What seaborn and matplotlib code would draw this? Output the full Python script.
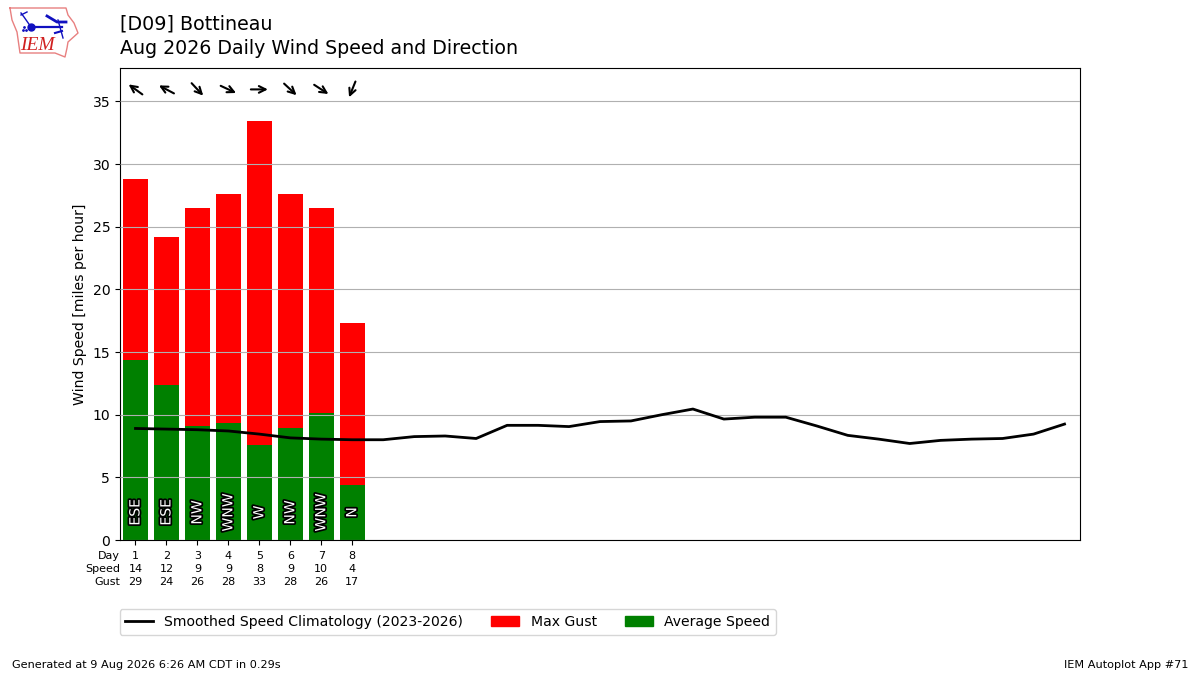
import numpy as np
import pandas as pd
import seaborn as sns
import matplotlib
matplotlib.use("Agg")
import matplotlib.pyplot as plt
import matplotlib.patheffects as PathEffects
from matplotlib.patches import Patch
from matplotlib.lines import Line2D
from matplotlib.transforms import ScaledTranslation

# daily values
days = [1, 2, 3, 4, 5, 6, 7, 8]
avg_speed = [14.4, 12.4, 9.1, 9.3, 7.6, 8.9, 10.1, 4.4]
max_gust = [28.8, 24.2, 26.5, 27.6, 33.4, 27.6, 26.5, 17.3]
speed_labels = [14, 12, 9, 9, 8, 9, 10, 4]
gust_labels = [29, 24, 26, 28, 33, 28, 26, 17]
dir_labels = ["ESE", "ESE", "NW", "WNW", "W", "NW", "WNW", "N"]
wind_dir = [126, 118, 317, 295, 270, 313, 303, 22]

clim_days = list(range(1, 32))
clim_speed = [8.9, 8.85, 8.8, 8.7, 8.45, 8.15, 8.05, 8.0, 8.0, 8.25, 8.3, 8.1,
              9.15, 9.15, 9.05, 9.45, 9.5, 10.0, 10.45, 9.65, 9.8, 9.8, 9.1,
              8.35, 8.05, 7.7, 7.95, 8.05, 8.1, 8.45, 9.25]

y_ticks = [0, 5, 10, 15, 20, 25, 30, 35]

# logo outline, pixels of the logo corner
iowa_x = [10, 66, 68, 74, 78, 68, 67, 65, 55, 20, 17, 12, 10]
iowa_y = [8, 8, 15, 23, 33, 42, 48, 57, 53, 53, 32, 20, 8]

df = pd.DataFrame({"day": days, "avg": avg_speed, "gust": max_gust})
clim = pd.DataFrame({"day": clim_days, "speed": clim_speed})

plt.rcParams["font.size"] = 10.1

fig = plt.figure(figsize=(12, 6.75), dpi=100)
ax = fig.add_axes([0.1, 0.2, 0.8, 0.699])

sns.barplot(data=df, x="day", y="gust", color="red", saturation=1, native_scale=True, width=0.8, ax=ax)
sns.barplot(data=df, x="day", y="avg", color="green", saturation=1, native_scale=True, width=0.8, ax=ax)
sns.lineplot(data=clim, x="day", y="speed", color="k", lw=2, ax=ax, zorder=4)

ax.set_xlim(0.5, 31.5)
ax.set_ylim(0, 37.65)
ax.set_yticks(y_ticks)
ax.grid(True, axis="y", color="#b0b0b0", lw=0.8)
ax.set_axisbelow(False)
ax.set_ylabel("Wind Speed [miles per hour]")
ax.set_xlabel("")

ax.set_xticks(days)
ax.set_xticklabels([f"{d}\n{s}\n{g}" for d, s, g in zip(days, speed_labels, gust_labels)],
                   fontsize=8, linespacing=1.38)
ax.tick_params(axis="x", pad=4.5)
ax.text(0.5, -0.0235, "Day\nSpeed\nGust", transform=ax.get_xaxis_transform(), ha="right", va="top",
        fontsize=8, linespacing=1.38)

# direction text inside the bars, arrows along the top
base = ax.get_xaxis_transform()
for d, label, deg in zip(days, dir_labels, wind_dir):
    ax.text(d, 2.2, label, rotation=90, color="white", ha="center", va="center", zorder=5,
            path_effects=[PathEffects.withStroke(linewidth=2.5, foreground="k")])
    # wind blows from deg, so the tip goes the other way
    rad = np.radians(deg)
    dx, dy = 0.085 * np.sin(rad), 0.085 * np.cos(rad)
    ax.annotate("", xy=(d, 0.955), xycoords=base + ScaledTranslation(-dx, -dy, fig.dpi_scale_trans),
                xytext=(d, 0.955), textcoords=base + ScaledTranslation(dx, dy, fig.dpi_scale_trans),
                zorder=6, arrowprops=dict(arrowstyle="->", color="k", lw=1.5, shrinkA=0, shrinkB=0,
                                          mutation_scale=12))

handles = [Line2D([], [], color="k", lw=2), Patch(color="red"), Patch(color="green")]
fig.legend(handles, ["Smoothed Speed Climatology (2023-2026)", "Max Gust", "Average Speed"],
           ncol=3, loc="center left", bbox_to_anchor=(0.0938, 0.0785), fontsize=10.1)

fig.text(0.1, 0.965, "[D09] Bottineau", fontsize=13.65, va="center")
fig.text(0.1, 0.9275, "Aug 2026 Daily Wind Speed and Direction", fontsize=13.65, va="center")
fig.text(0.01, 0.015, "Generated at 9 Aug 2026 6:26 AM CDT in 0.29s", fontsize=8.15, va="center")
fig.text(0.99, 0.015, "IEM Autoplot App #71", fontsize=8.1, va="center", ha="right")

# IEM logo in the corner, drawn in pixels
logo = fig.add_axes([0, 1 - 65 / 675, 90 / 1200, 65 / 675])
logo.set_xlim(0, 90)
logo.set_ylim(65, 0)
logo.axis("off")
logo.plot(iowa_x, iowa_y, color="#e88080", lw=1)
logo.plot([31, 62], [27, 27], color="#1010c0", lw=1.6)
logo.plot([31], [27], "o", color="#1010c0", ms=5)
logo.plot([31, 24, 21], [27, 17, 13], color="#1010c0", lw=1)
logo.plot([21, 27], [15, 12], color="#1010c0", lw=1)
logo.plot([47, 57, 66], [16, 22, 22], color="#1010c0", lw=2)
logo.plot([58, 63], [20, 38], color="#1010c0", lw=1)
logo.plot([55, 62], [33, 31], color="#1010c0", lw=1.5)
logo.plot([23, 26, 24], [30, 30, 27], ".", color="#1010c0", ms=2)
logo.text(37, 45, "IEM", color="#d02020", fontsize=14, family="Liberation Serif", style="italic",
          ha="center", va="center")

fig.savefig("out.png")
plt.close(fig)
